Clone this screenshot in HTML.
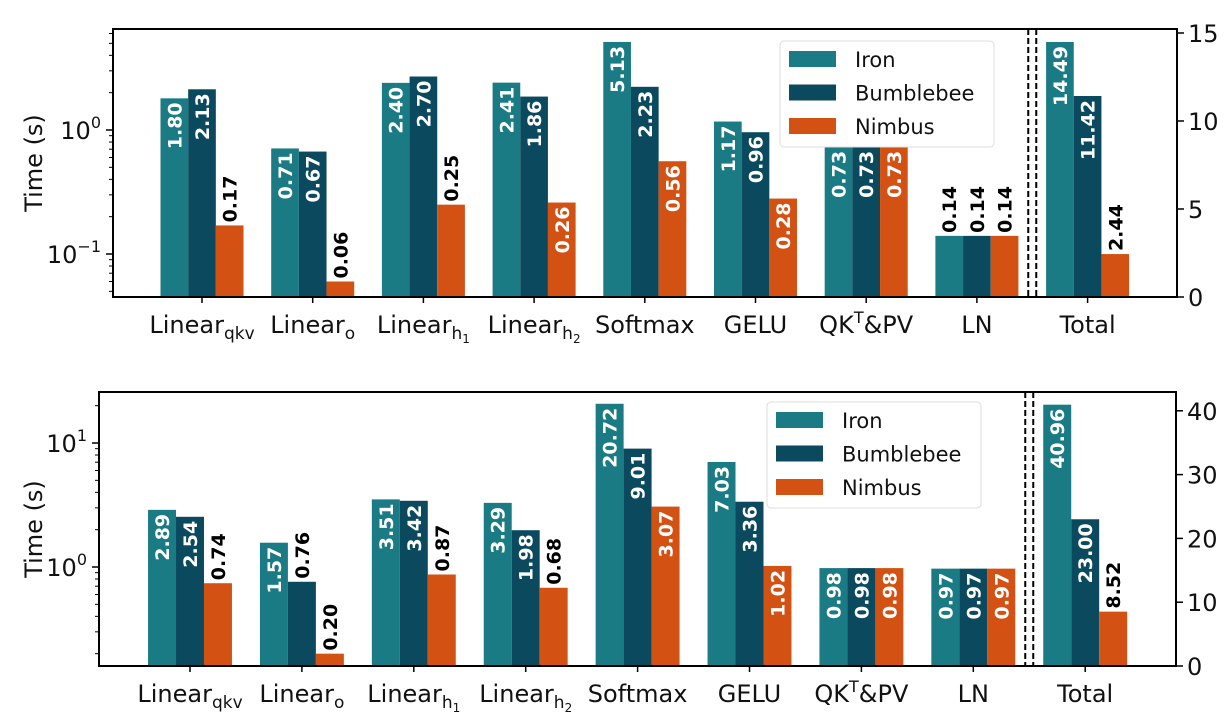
<!DOCTYPE html>
<html><head><meta charset="utf-8"><style>
body{margin:0;background:#fff}
svg{font-family:"DejaVu Sans","Liberation Sans",sans-serif}
</style></head><body>
<svg id="c" width="1228" height="715" viewBox="0 0 1228 715"></svg>
<script>
const categories=["Linear_qkv","Linear_o","Linear_h1","Linear_h2","Softmax","GELU","QKT&PV","LN","Total"];
const series=["Iron","Bumblebee","Nimbus"];
const topIron=[1.80,0.71,2.40,2.41,5.13,1.17,0.73,0.14,14.49];
const topBumble=[2.13,0.67,2.70,1.86,2.23,0.96,0.73,0.14,11.42];
const topNimbus=[0.17,0.06,0.25,0.26,0.56,0.28,0.73,0.14,2.44];
const botIron=[2.89,1.57,3.51,3.29,20.72,7.03,0.98,0.97,40.96];
const botBumble=[2.54,0.76,3.42,1.98,9.01,3.36,0.98,0.97,23.00];
const botNimbus=[0.74,0.20,0.87,0.68,3.07,1.02,0.98,0.97,8.52];
const topRightTicks=[0,5,10,15];
const botRightTicks=[0,10,20,30,40];
const colors=["#1a7b85","#0b4a5e","#d35213"];
const NS="http://www.w3.org/2000/svg";
const svg=document.getElementById('c');
function mk(tag,attrs,parent){const e=document.createElementNS(NS,tag);for(const k in attrs)e.setAttribute(k,attrs[k]);(parent||svg).appendChild(e);return e;}

function panel(p){
  const g=mk('g',{});
  
  
  const x=i=>p.x0+p.dx*i;
  const yL=v=>p.y1-(Math.log10(v)-p.logMin)*p.dec;
  const yR=v=>p.bottom-(v-0)*p.rs;
  const bw=p.dx*0.25;
  const data=[p.iron,p.bumble,p.nimbus];
  for(let s=0;s<3;s++){
    for(let i=0;i<categories.length;i++){
      const v=data[s][i];
      const cx=x(i)+(s-1)*bw;
      const yt=i===8?yR(v):yL(v);
      const h=p.bottom-yt;
      const r=mk('rect',{x:cx-bw/2,y:yt,width:bw,height:h,fill:colors[s]},g);
      
      
      const inside=h>93.5;
      const lbl=v.toFixed(2);
      const t=mk('text',{transform:`translate(${cx+7},${inside?yt+4:yt-3}) rotate(-90)`,'font-size':'19','font-weight':'bold',fill:inside?'#fff':'#000','text-anchor':inside?'end':'start'},g);
      t.textContent=lbl;
      
      
    }
  }
  mk('rect',{x:p.left,y:p.top,width:p.right-p.left,height:p.bottom-p.top,fill:'none',stroke:'#000','stroke-width':2},g);
  for(const o of [-4,4]){const l=mk('line',{x1:x(7.5)+o,x2:x(7.5)+o,y1:p.top,y2:p.bottom,stroke:'#000','stroke-width':2,'stroke-dasharray':'6,3'},g);
  }
  const labs=[['Linear','qkv'],['Linear','o'],['Linear','h','1'],['Linear','h','2'],['Softmax',''],['GELU',''],['QK','T&PV'],['LN',''],['Total','']];
  labs.forEach((L,i)=>{
    mk('line',{x1:x(i),x2:x(i),y1:p.bottom,y2:p.bottom+6,stroke:'#000','stroke-width':1.5},g);
    const t=mk('text',{x:x(i),y:p.bottom+36,'font-size':'24','text-anchor':'middle',fill:'#111'},g);
    
    if(i===6){t.innerHTML='QK<tspan dy="-10" font-size="16">T</tspan><tspan dy="10">&amp;PV</tspan>';}
    else if(L[2]){t.innerHTML=L[0]+'<tspan dy="6" font-size="17">'+L[1]+'</tspan><tspan dy="4" font-size="12">'+L[2]+'</tspan>';}
    else if(L[1]){t.innerHTML=L[0]+'<tspan dy="6" font-size="17">'+L[1]+'</tspan>';}
    else t.textContent=L[0];
  });
  for(let d=-3;d<=2;d++){
    for(let m=1;m<10;m++){
      const v=m*Math.pow(10,d);const yy=yL(v);
      if(yy<p.top-0.5||yy>p.bottom+0.5)continue;
      mk('line',{x1:p.left,x2:p.left-(m===1?7:4),y1:yy,y2:yy,stroke:'#000','stroke-width':m===1?1.5:1},g);
      if(m===1){const t=mk('text',{x:p.left-12,y:yy+9,'font-size':'24','text-anchor':'end',fill:'#111'},g);
        t.innerHTML='10<tspan dy="-11" font-size="16">'+(d<0?'−'+(-d):d)+'</tspan>';
        }
    }
  }
  p.rticks.forEach(v=>{const yy=yR(v);
    mk('line',{x1:p.right,x2:p.right+7,y1:yy,y2:yy,stroke:'#000','stroke-width':1.5},g);
    const t=mk('text',{x:p.right+11,y:yy+9,'font-size':'24',fill:'#111'},g);t.textContent=v;
    });
  const yt=mk('text',{transform:`translate(42,${(p.top+p.bottom)/2}) rotate(-90)`,'font-size':'24','text-anchor':'middle',fill:'#111'},g);
  yt.textContent='Time (s)';
  const lg=mk('g',{},g);
  mk('rect',{x:p.lx,y:p.ly,width:214,height:106,rx:4,fill:'#fff','fill-opacity':0.85,stroke:'#ddd'},lg);
  series.forEach((s,k)=>{
    mk('rect',{x:p.lx+9,y:p.ly+10+k*33.5,width:47,height:16,fill:colors[k]},lg);
    const t=mk('text',{x:p.lx+75,y:p.ly+26+k*33.5,'font-size':'21',fill:'#111'},lg);t.textContent=s;
    
  });
}
panel({name:'top-panel',iron:topIron,bumble:topBumble,nimbus:topNimbus,x0:202,dx:110.7,left:113,right:1177,top:29,bottom:297,y1:130,logMin:0,dec:124,rs:17.6,rticks:topRightTicks,lx:780,ly:41});
panel({name:'bottom-panel',iron:botIron,bumble:botBumble,nimbus:botNimbus,x0:190,dx:111.9,left:99,right:1176,top:392,bottom:666,y1:567,logMin:0,dec:124,rs:6.38,rticks:botRightTicks,lx:767,ly:402});
</script>
</body></html>
